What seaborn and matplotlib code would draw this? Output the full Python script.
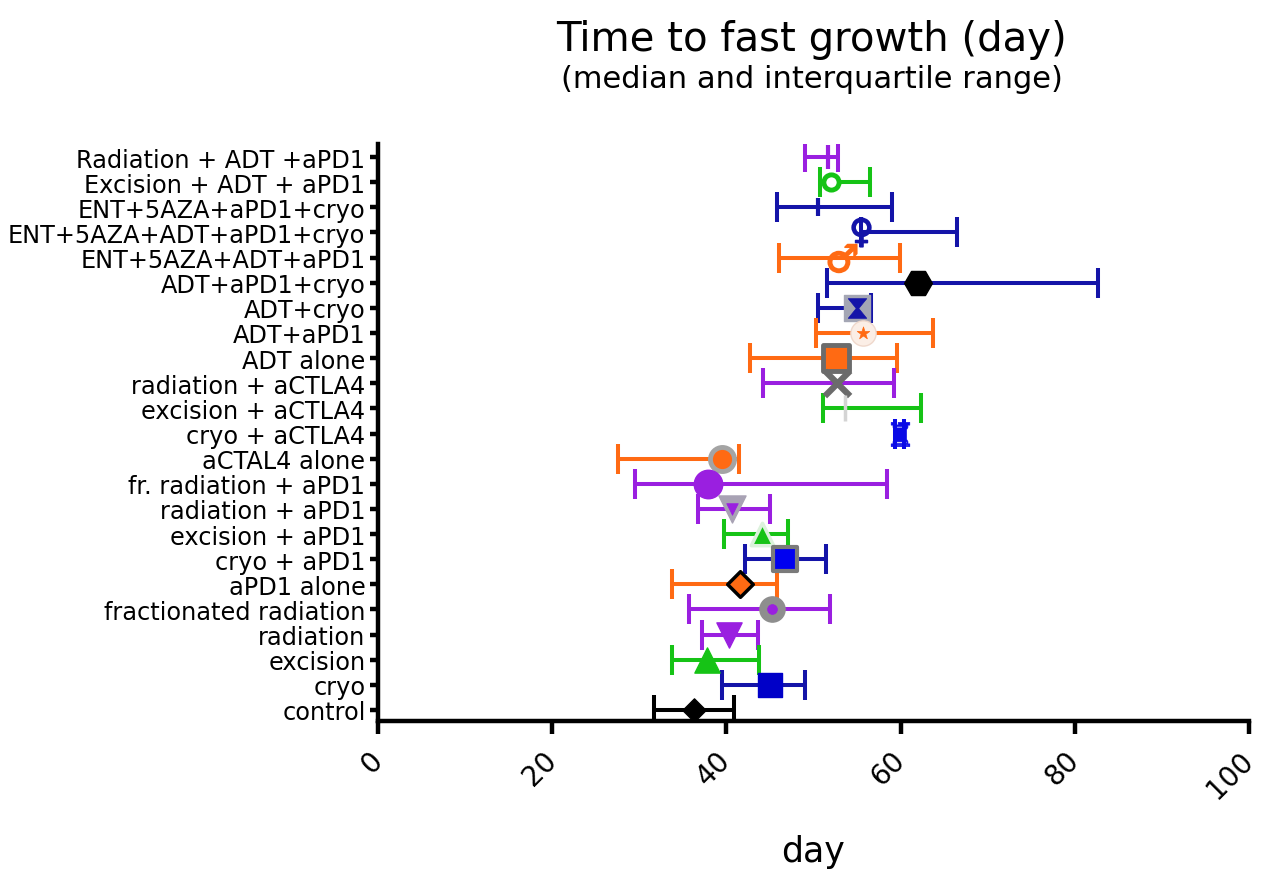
import numpy as np
import pandas as pd
import matplotlib
matplotlib.use("Agg")
import matplotlib.pyplot as plt
import seaborn as sns

# ---- data (top row first) ----
groups = [
    "Radiation + ADT +aPD1", "Excision + ADT + aPD1", "ENT+5AZA+aPD1+cryo",
    "ENT+5AZA+ADT+aPD1+cryo", "ENT+5AZA+ADT+aPD1", "ADT+aPD1+cryo",
    "ADT+cryo", "ADT+aPD1", "ADT alone", "radiation + aCTLA4",
    "excision + aCTLA4", "cryo + aCTLA4", "aCTAL4 alone",
    "fr. radiation + aPD1", "radiation + aPD1", "excision + aPD1",
    "cryo + aPD1", "aPD1 alone", "fractionated radiation", "radiation",
    "excision", "cryo", "control",
]
median = [51.7, 52.0, 50.5, 55.4, 53.3, 62.0, 55.0, 55.7, 52.6, 52.7,
          53.6, 59.9, 39.5, 37.9, 40.7, 44.1, 46.7, 41.6, 45.2, 40.3,
          37.8, 45.0, 36.3]
q1 = [49.0, 50.7, 45.8, 55.4, 46.0, 51.5, 50.5, 50.3, 42.7, 44.2,
      51.1, 59.4, 27.5, 29.5, 36.7, 39.7, 42.1, 33.7, 35.7, 37.2,
      33.7, 39.5, 31.7]
q3 = [52.8, 56.5, 59.0, 66.5, 59.9, 82.7, 56.6, 63.7, 59.6, 59.2,
      62.3, 60.4, 41.5, 58.4, 45.0, 47.1, 51.4, 45.8, 51.9, 43.6,
      43.8, 49.0, 40.9]

x_ticks = [0, 20, 40, 60, 80, 100]

# ---- styles ----
PUR, GRN, BLU, NAV, ORA, BLK = "#9a1fe0", "#16c316", "#0a0ae6", "#1414a8", "#ff6a13", "#000000"
bar_colors = [PUR, GRN, NAV, NAV, ORA, NAV, NAV, ORA, ORA, PUR, GRN, BLU,
              ORA, PUR, PUR, GRN, NAV, ORA, PUR, PUR, GRN, NAV, BLK]

# marker, size (scatter s), face, edge, edge width, optional overlay
styles = [
    dict(m="|", s=300, fc=PUR, ec=PUR, lw=3),
    dict(m="o", s=120, fc="white", ec=GRN, lw=3.5),
    dict(m="|", s=150, fc=NAV, ec=NAV, lw=3),
    dict(m="$\u2640$", s=420, fc=NAV, ec=NAV, lw=1.2),
    dict(m="$\u2642$", s=420, fc=ORA, ec=ORA, lw=1.2),
    dict(m="H", s=400, fc=BLK, ec=BLK, lw=1),
    dict(m="s", s=330, fc="#a4a6b4", ec="#a4a6b4", lw=1, over=dict(m="$\u29d7$", s=200, fc=NAV, ec=NAV, lw=0.5)),
    dict(m="o", s=330, fc="#fbeee6", ec="#efd8cc", lw=1, over=dict(m="*", s=90, fc=ORA, ec=ORA, lw=0.5)),
    dict(m="s", s=330, fc=ORA, ec="#6b6b6b", lw=3.5),
    dict(m="x", s=330, fc="#6b6b6b", ec="#6b6b6b", lw=4.5),
    dict(m="|", s=330, fc="#d4d4d4", ec="#d4d4d4", lw=2.5),
    dict(m="$\u265c$", s=300, fc=BLU, ec=BLU, lw=0.5),
    dict(m="o", s=300, fc=ORA, ec="#a4a4a4", lw=3.5),
    dict(m="o", s=420, fc=PUR, ec=PUR, lw=1),
    dict(m="v", s=380, fc="#a8a2b4", ec="#a8a2b4", lw=1, over=dict(m="v", s=70, fc=PUR, ec=PUR, lw=0.5)),
    dict(m="^", s=260, fc=GRN, ec="#dcf2dc", lw=2.5),
    dict(m="s", s=300, fc="#0000f0", ec="#7a7a7a", lw=3),
    dict(m="D", s=170, fc=ORA, ec=BLK, lw=2.5),
    dict(m="o", s=330, fc="#8e8e8e", ec="#8e8e8e", lw=1, over=dict(m="o", s=50, fc=PUR, ec=PUR, lw=0.5)),
    dict(m="v", s=330, fc=PUR, ec=PUR, lw=1),
    dict(m="^", s=330, fc=GRN, ec=GRN, lw=1),
    dict(m="s", s=300, fc="#0000c8", ec="#0000c8", lw=1),
    dict(m="D", s=140, fc=BLK, ec=BLK, lw=1),
]

n = len(groups)
df = pd.DataFrame({"group": groups, "median": median, "q1": q1, "q3": q3})
df["pos"] = np.arange(n)[::-1]

sns.set_theme(style="ticks")
plt.rcParams["font.family"] = ["DejaVu Sans"]
plt.rcParams["text.color"] = "black"
plt.rcParams["xtick.color"] = "black"
plt.rcParams["ytick.color"] = "black"
plt.rcParams["axes.labelcolor"] = "black"

fig = plt.figure(figsize=(12.62, 8.78), dpi=100)
ax = fig.add_axes([378 / 1262, 1 - 722 / 878, (1249 - 378) / 1262, (722 - 145) / 878])

for i, row in df.iterrows():
    ax.errorbar(row["median"], row["pos"],
                xerr=[[row["median"] - row["q1"]], [row["q3"] - row["median"]]],
                fmt="none", ecolor=bar_colors[i], elinewidth=2.9,
                capsize=11, capthick=2.9, zorder=2)
    st = styles[i]
    sns.scatterplot(x=[row["median"]], y=[row["pos"]], marker=st["m"], s=st["s"],
                    color=st["fc"], edgecolor=st["ec"], linewidth=st["lw"],
                    ax=ax, zorder=3, legend=False)
    if "over" in st:
        ov = st["over"]
        sns.scatterplot(x=[row["median"]], y=[row["pos"]], marker=ov["m"], s=ov["s"],
                        color=ov["fc"], edgecolor=ov["ec"], linewidth=ov["lw"],
                        ax=ax, zorder=4, legend=False)

ax.set_xlim(0, 100)
ax.set_ylim(-0.44, n - 1 + 0.52)
ax.set_yticks(df["pos"])
ax.set_yticklabels(df["group"], fontsize=17.3)
ax.set_xticks(x_ticks)
ax.set_xticklabels([str(t) for t in x_ticks], fontsize=20, rotation=45,
                   ha="right", va="center", rotation_mode="anchor")

sns.despine(ax=ax)
for side in ["left", "bottom"]:
    ax.spines[side].set_linewidth(3.2)
    ax.spines[side].set_color("black")
ax.tick_params(axis="x", length=9, width=3.2, pad=16)
ax.tick_params(axis="y", length=6, width=3.2, pad=3)
ax.set_xlabel("day", fontsize=25)
ax.set_ylabel("")
ax.xaxis.set_label_coords(0.5, -0.195)

fig.text(812 / 1262, 1 - 40 / 878, "Time to fast growth (day)", fontsize=29,
         ha="center", va="center")
fig.text(812 / 1262, 1 - 79 / 878, "(median and interquartile range)", fontsize=22,
         ha="center", va="center")

fig.savefig("out.png", dpi=100)
